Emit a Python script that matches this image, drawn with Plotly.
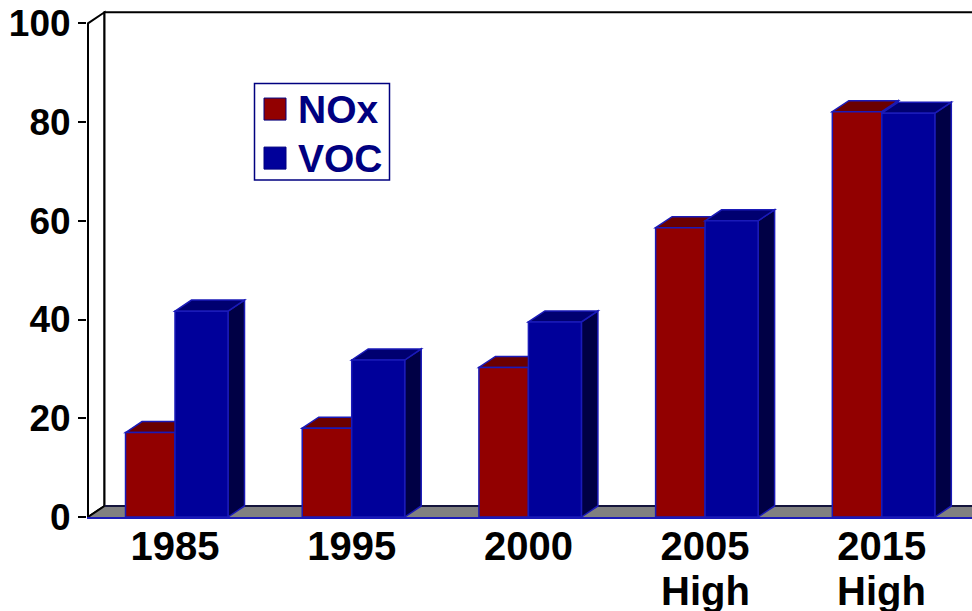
import plotly.graph_objects as go

# Emission index by year / scenario
categories = ["1985", "1995", "2000", "2005", "2015"]
scenario = ["", "", "", "High", "High"]
nox = [17.1, 18.0, 30.3, 58.6, 82.1]
voc = [41.7, 31.8, 39.5, 60.0, 81.8]
y_ticks = [0, 20, 40, 60, 80, 100]

# colours
NOX_FRONT, NOX_TOP, NOX_SIDE = "#920000", "#6A0000", "#480000"
VOC_FRONT, VOC_TOP, VOC_SIDE = "#00009A", "#000070", "#000045"
EDGE = "#1A1AB8"
NAVY = "#000080"
FONT = "Liberation Sans, Arial, sans-serif"

# pseudo-3D depth (data units) and bar geometry
DX, DY = 0.0934, 2.23
NOX_W, VOC_W = 0.28, 0.30
X_LEFT, X_RIGHT = -0.498, 4.5105     # visible x range
X0 = -0.4924                          # front edge of the floor / axis wall
X_FAR = 6.0                           # walls run off the right edge
Y_TOP = 104.72

xpos = list(range(len(categories)))

fig = go.Figure()
fig.add_trace(go.Bar(x=xpos, y=nox, name="NOx", offset=-NOX_W, width=NOX_W,
                     marker=dict(color=NOX_FRONT, line=dict(color=EDGE, width=1.5)),
                     showlegend=False))
fig.add_trace(go.Bar(x=xpos, y=voc, name="VOC", offset=0, width=VOC_W,
                     marker=dict(color=VOC_FRONT, line=dict(color=EDGE, width=1.5)),
                     showlegend=False))


def poly(pts):
    return "M " + " L ".join(f"{x},{y}" for x, y in pts) + " Z"


shapes = []
# left wall
shapes.append(dict(type="path", xref="x", yref="y", layer="below",
                   path=poly([(X0, 0), (X0, 100), (X0 + DX, 100 + DY), (X0 + DX, DY)]),
                   fillcolor="white", line=dict(color="black", width=2)))
# back wall
shapes.append(dict(type="path", xref="x", yref="y", layer="below",
                   path=poly([(X0 + DX, DY), (X0 + DX, 100 + DY), (X_FAR, 100 + DY), (X_FAR, DY)]),
                   fillcolor="white", line=dict(color="black", width=2)))
# floor
shapes.append(dict(type="path", xref="x", yref="y", layer="below",
                   path=poly([(X0, 0), (X_FAR, 0), (X_FAR, DY), (X0 + DX, DY)]),
                   fillcolor="#808080", line=dict(width=0)))
shapes.append(dict(type="line", xref="x", yref="y", layer="below",
                   x0=X0 + DX, y0=DY, x1=X_FAR, y1=DY, line=dict(color="#14143C", width=2)))
shapes.append(dict(type="line", xref="x", yref="y", layer="below",
                   x0=X0, y0=0, x1=X0 + DX, y1=DY, line=dict(color="black", width=2)))
# front value axis
shapes.append(dict(type="line", xref="x", yref="y", layer="below",
                   x0=X0, y0=0, x1=X0, y1=100, line=dict(color="black", width=2)))


def box_faces(xl, xr, v, top, side):
    out = []
    out.append(dict(type="path", xref="x", yref="y", layer="below",
                    path=poly([(xr, 0), (xr + DX, DY), (xr + DX, v + DY), (xr, v)]),
                    fillcolor=side, line=dict(color=EDGE, width=1.5)))
    out.append(dict(type="path", xref="x", yref="y", layer="below",
                    path=poly([(xl, v), (xl + DX, v + DY), (xr + DX, v + DY), (xr, v)]),
                    fillcolor=top, line=dict(color=EDGE, width=1.5)))
    return out


for i, x in enumerate(xpos):
    shapes += box_faces(x - NOX_W, x, nox[i], NOX_TOP, NOX_SIDE)
for i, x in enumerate(xpos):
    shapes += box_faces(x, x + VOC_W, voc[i], VOC_TOP, VOC_SIDE)

# legend box, in paper coordinates of the plot area
PL, PW, PB, PH = 87, 885, 516.7, 516.7


def px(x):
    return (x - PL) / PW


def py(y):
    return (PB - y) / PH


shapes.append(dict(type="rect", xref="paper", yref="paper", layer="above",
                   x0=px(254.5), x1=px(389.5), y0=py(180), y1=py(83.5),
                   fillcolor="white", line=dict(color=NAVY, width=1.5)))
legend_items = [("NOx", NOX_FRONT, 109), ("VOC", VOC_FRONT, 158)]
annotations = []
for label, colr, cy in legend_items:
    shapes.append(dict(type="rect", xref="paper", yref="paper", layer="above",
                       x0=px(264), x1=px(286), y0=py(cy + 11), y1=py(cy - 11),
                       fillcolor=colr, line=dict(color=NAVY, width=1)))
    annotations.append(dict(xref="paper", yref="paper", x=px(296), y=py(cy),
                            xanchor="left", yanchor="middle", showarrow=False,
                            text=label, font=dict(family=FONT, size=39, color=NAVY, weight="bold")))

# second line of the category labels
for x, s in zip(xpos, scenario):
    if s:
        annotations.append(dict(xref="x", yref="paper", x=x, y=0, yshift=-74,
                                xanchor="center", yanchor="middle", showarrow=False,
                                text=s, font=dict(family=FONT, size=40, color="black", weight="bold")))

fig.update_layout(
    width=972, height=611,
    margin=dict(l=PL, r=0, t=0, b=611 - PB, pad=0),
    plot_bgcolor="white", paper_bgcolor="white",
    barmode="overlay",
    shapes=shapes, annotations=annotations,
    xaxis=dict(range=[X_LEFT, X_RIGHT], tickvals=xpos, ticktext=categories,
               showgrid=False, zeroline=False, ticks="",
               showline=True, linecolor=EDGE, linewidth=2,
               tickfont=dict(family=FONT, size=40, color="black", weight="bold"),
               ticklabelstandoff=-7),
    yaxis=dict(range=[0, Y_TOP], tickvals=y_ticks, ticktext=[str(v) for v in y_ticks],
               showgrid=False, zeroline=False, showline=False,
               ticks="outside", ticklen=8, tickwidth=2, tickcolor="black",
               tickfont=dict(family=FONT, size=37, color="black", weight="bold")),
)

fig.write_html("out.html")
